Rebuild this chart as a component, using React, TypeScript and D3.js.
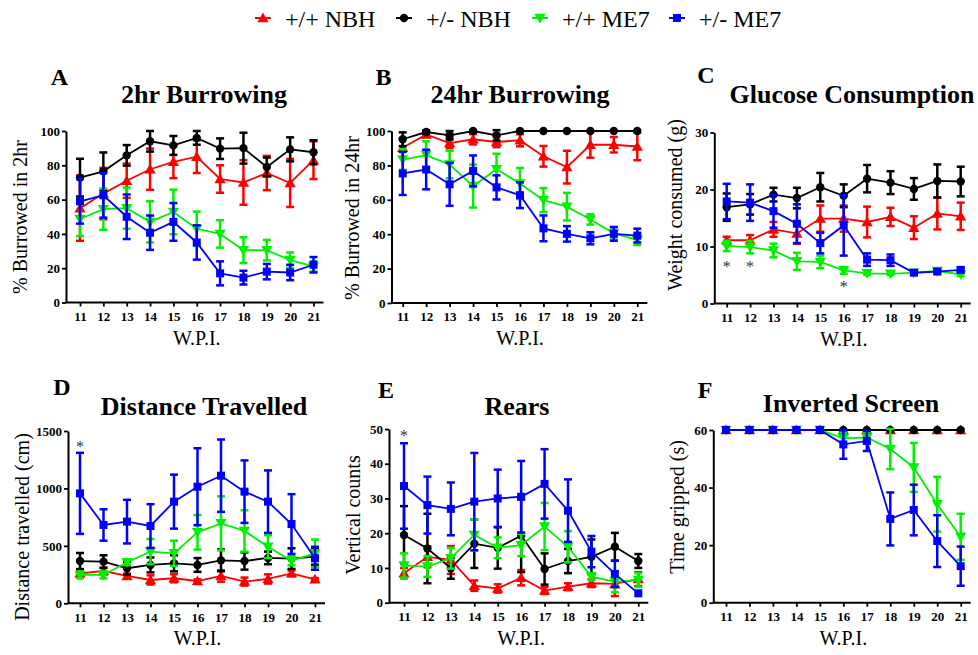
import React, { useRef, useEffect } from 'react';
import * as d3 from 'd3';

const weeks = [11, 12, 13, 14, 15, 16, 17, 18, 19, 20, 21];

// A - 2hr burrowing (%)
const A_WT_NBH = [55, 63.5, 71, 77.7, 82, 85, 72, 70, 75.5, 69.7, 83];
const A_WT_NBH_SEM = [19, 15, 10, 12, 9.5, 9.5, 8, 13, 10, 14, 11];
const A_HET_NBH = [72.8, 76.5, 85.8, 94, 91.6, 96, 89.7, 90, 79, 89.3, 87.6];
const A_HET_NBH_SEM = [11, 11, 6, 6, 5.5, 4, 6, 9, 5.5, 7, 7];
const A_WT_ME7 = [48.7, 54.4, 55, 47, 52.8, 43, 40, 30.5, 30.5, 24.7, 21];
const A_WT_ME7_SEM = [10, 12, 12, 12, 13, 10, 8, 7.5, 6, 4.5, 3];
const A_HET_ME7 = [59, 62.5, 50, 40.7, 47, 35, 17, 14.5, 18, 17.5, 22];
const A_HET_ME7_SEM = [13, 13, 13, 10, 11, 10, 7, 4, 4.5, 4.5, 4.5];

// B - 24hr burrowing (%)
const B_WT_NBH = [90.3, 98, 93, 95.2, 93.6, 94.6, 85.3, 79, 92, 92, 91];
const B_WT_NBH_SEM = [5.5, 1.5, 3, 3, 3, 3.5, 6, 9.5, 7.5, 4.5, 8];
const B_HET_NBH = [95.2, 99.4, 97.5, 100, 97.5, 100, 100, 100, 100, 100, 100];
const B_HET_NBH_SEM = [4, 1, 2.5, 0.5, 3, 0, 0, 0, 0, 0, 0];
const B_WT_ME7 = [83.4, 86, 80.5, 68, 77.8, 69.5, 59.8, 56, 48.6, 40.5, 36.7];
const B_WT_ME7_SEM = [6, 8, 8, 12.5, 9, 9, 7, 8, 3, 3.5, 3];
const B_HET_ME7 = [75.3, 77.6, 69, 76.8, 67.2, 62.7, 43.4, 40.2, 37.6, 40.2, 39.2];
const B_HET_ME7_SEM = [12.5, 11.5, 12.5, 9, 7, 7.5, 7.5, 4.5, 3.5, 4, 4];

// C - glucose consumption (g)
const C_WT_NBH = [11.1, 11.1, 13, 12.3, 14.9, 14.9, 14.3, 15.2, 13.3, 15.8, 15.3];
const C_WT_NBH_SEM = [0.6, 0.9, 1.3, 1.8, 2.3, 2.3, 2.7, 1.6, 2, 2.8, 2.4];
const C_HET_NBH = [16.9, 17.4, 19.1, 18.5, 20.4, 18.9, 21.9, 21.2, 20.1, 21.5, 21.4];
const C_HET_NBH_SEM = [2.4, 1.8, 1.2, 1.8, 2.5, 2, 2.4, 2, 1.9, 2.9, 2.6];
const C_WT_ME7 = [10.1, 9.9, 9.3, 7.4, 7.3, 5.8, 5.3, 5.2, 5.4, 5.7, 5.1];
const C_WT_ME7_SEM = [0.9, 1.1, 1.2, 1.5, 1.1, 0.6, 0.3, 0.2, 0.2, 0.2, 0.3];
const C_HET_ME7 = [17.9, 17.7, 16.2, 14, 10.6, 13.7, 7.7, 7.6, 5.4, 5.6, 5.9];
const C_HET_ME7_SEM = [3.1, 3.2, 2.9, 3.4, 1.8, 5.3, 1.1, 1, 0.3, 0.3, 0.4];

// D - distance travelled (cm)
const D_WT_NBH = [261, 281, 238, 203, 218, 194, 238, 189, 212, 261, 209];
const D_WT_NBH_SEM = [30, 30, 20, 40, 35, 15, 50, 35, 40, 25, 10];
const D_HET_NBH = [368, 363, 305, 334, 348, 334, 374, 368, 395, 389, 406];
const D_HET_NBH_SEM = [70, 55, 55, 65, 70, 60, 95, 75, 55, 90, 70];
const D_WT_ME7 = [247, 247, 357, 450, 435, 618, 696, 630, 493, 371, 435];
const D_WT_ME7_SEM = [30, 30, 25, 110, 110, 150, 235, 180, 100, 40, 120];
const D_HET_ME7 = [957, 682, 711, 673, 885, 1015, 1111, 972, 885, 690, 392];
const D_HET_ME7_SEM = [353, 137, 190, 190, 235, 335, 315, 272, 272, 260, 100];

// E - rears (vertical counts)
const E_WT_NBH = [8.5, 13.2, 12.3, 4.9, 4.1, 7.2, 3.5, 4.6, 5.6, 5.4, 6.8];
const E_WT_NBH_SEM = [1.5, 3, 4, 1.5, 1.2, 2.2, 1, 1, 1.1, 3.5, 2];
const E_HET_NBH = [19.5, 15.6, 9.9, 17, 15.8, 19.3, 9.7, 12, 13.2, 16.1, 12];
const E_HET_NBH_SEM = [8.3, 10, 3, 7, 6, 10.5, 4.5, 3.5, 5, 4, 2];
const E_WT_ME7 = [10.7, 10.4, 12.8, 19.5, 15.8, 16.6, 21.9, 16.1, 7.5, 6, 6.5];
const E_WT_ME7_SEM = [3.5, 3, 3, 4.5, 3, 3.2, 6.8, 4.5, 1, 3, 2];
const E_HET_ME7 = [33.6, 28.1, 27, 29.1, 30, 30.5, 34.2, 26.5, 14.7, 8.3, 2.7];
const E_HET_ME7_SEM = [12.3, 8.2, 7.6, 14, 8.3, 10.3, 10, 9, 4.5, 3.8, 0];

// F - inverted screen (s)
const F_WT_NBH = [60, 60, 60, 60, 60, 60, 60, 60, 60, 60, 60];
const F_WT_NBH_SEM = [0, 0, 0, 0, 0, 0, 0, 0, 0, 0, 0];
const F_HET_NBH = [60, 60, 60, 60, 60, 60, 60, 60, 60, 60, 60];
const F_HET_NBH_SEM = [0, 0, 0, 0, 0, 0, 0, 0, 0, 0, 0];
const F_WT_ME7 = [60, 60, 60, 60, 60, 57.1, 57.4, 53.4, 47, 34.2, 22.9];
const F_WT_ME7_SEM = [0, 0, 0, 0, 0, 2, 2, 7, 8.5, 9.5, 8];
const F_HET_ME7 = [60, 60, 60, 60, 60, 55, 56.2, 29.1, 32.2, 21.4, 12.7];
const F_HET_ME7_SEM = [0, 0, 0, 0, 0, 5, 3.5, 9.2, 8.8, 9, 6.8];

const groupLabels = ['+/+ NBH', '+/- NBH', '+/+ ME7', '+/- ME7'];
const groupColors = ['#ff0000', '#000000', '#00f000', '#0000ff'];

const SERIF = "'Liberation Serif', 'Times New Roman', serif";

const panels = [
  {
    letter: 'A', title: '2hr Burrowing', ylabel: '% Burrowed in 2hr', yMax: 100, yTicks: [0, 20, 40, 60, 80, 100],
    means: [A_WT_NBH, A_HET_NBH, A_WT_ME7, A_HET_ME7], sems: [A_WT_NBH_SEM, A_HET_NBH_SEM, A_WT_ME7_SEM, A_HET_ME7_SEM],
    stars: [] as number[][],
    box: { ax: 66, x0: 80, x1: 313.5, top: 131, bottom: 302.5, letterX: 59.5, letterY: 85, titleX: 204, titleY: 103, ylX: 20, ylY: 217 },
  },
  {
    letter: 'B', title: '24hr Burrowing', ylabel: '% Burrowed in 24hr', yMax: 100, yTicks: [0, 20, 40, 60, 80, 100],
    means: [B_WT_NBH, B_HET_NBH, B_WT_ME7, B_HET_ME7], sems: [B_WT_NBH_SEM, B_HET_NBH_SEM, B_WT_ME7_SEM, B_HET_ME7_SEM],
    stars: [] as number[][],
    box: { ax: 391.5, x0: 402.7, x1: 637.3, top: 131, bottom: 303, letterX: 383.5, letterY: 85, titleX: 520, titleY: 103, ylX: 352, ylY: 218 },
  },
  {
    letter: 'C', title: 'Glucose Consumption', ylabel: 'Weight consumed (g)', yMax: 30, yTicks: [0, 10, 20, 30],
    means: [C_WT_NBH, C_HET_NBH, C_WT_ME7, C_HET_ME7], sems: [C_WT_NBH_SEM, C_HET_NBH_SEM, C_WT_ME7_SEM, C_HET_ME7_SEM],
    stars: [[11, 7], [12, 7], [16, 3.5]],
    box: { ax: 714.3, x0: 726.7, x1: 960.7, top: 132.5, bottom: 303.5, letterX: 706, letterY: 83, titleX: 852, titleY: 103, ylX: 675, ylY: 205 },
  },
  {
    letter: 'D', title: 'Distance Travelled', ylabel: 'Distance travelled (cm)', yMax: 1500, yTicks: [0, 500, 1000, 1500],
    means: [D_WT_NBH, D_HET_NBH, D_WT_ME7, D_HET_ME7], sems: [D_WT_NBH_SEM, D_HET_NBH_SEM, D_WT_ME7_SEM, D_HET_ME7_SEM],
    stars: [[11, 1390]],
    box: { ax: 68, x0: 80, x1: 315, top: 431, bottom: 603.3, letterX: 62, letterY: 395, titleX: 204, titleY: 415, ylX: 22, ylY: 527 },
  },
  {
    letter: 'E', title: 'Rears', ylabel: 'Vertical counts', yMax: 50, yTicks: [0, 10, 20, 30, 40, 50],
    means: [E_WT_NBH, E_HET_NBH, E_WT_ME7, E_HET_ME7], sems: [E_WT_NBH_SEM, E_HET_NBH_SEM, E_WT_ME7_SEM, E_HET_ME7_SEM],
    stars: [[11, 49]],
    box: { ax: 389, x0: 404, x1: 638.3, top: 429, bottom: 602.7, letterX: 386, letterY: 398, titleX: 517, titleY: 415, ylX: 353, ylY: 515 },
  },
  {
    letter: 'F', title: 'Inverted Screen', ylabel: 'Time gripped (s)', yMax: 60, yTicks: [0, 20, 40, 60],
    means: [F_WT_NBH, F_HET_NBH, F_WT_ME7, F_HET_ME7], sems: [F_WT_NBH_SEM, F_HET_NBH_SEM, F_WT_ME7_SEM, F_HET_ME7_SEM],
    stars: [] as number[][],
    box: { ax: 713.3, x0: 726, x1: 960.7, top: 430, bottom: 602.7, letterX: 705, letterY: 398, titleX: 851, titleY: 412, ylX: 677, ylY: 507 },
  },
];

const legendX = [263, 404, 540, 677];

function drawMarker(g: any, k: number, cx: number, cy: number) {
  const color = groupColors[k];
  if (k === 0) {
    g.append('path').attr('d', d3.symbol().type(d3.symbolTriangle).size(55)())
      .attr('transform', `translate(${cx},${cy + 1})`).attr('fill', color);
  } else if (k === 1) {
    g.append('path').attr('d', d3.symbol().type(d3.symbolCircle).size(55)())
      .attr('transform', `translate(${cx},${cy})`).attr('fill', color);
  } else if (k === 2) {
    g.append('path').attr('d', d3.symbol().type(d3.symbolTriangle).size(55)())
      .attr('transform', `translate(${cx},${cy - 1}) rotate(180)`).attr('fill', color);
  } else {
    g.append('path').attr('d', d3.symbol().type(d3.symbolSquare).size(64)())
      .attr('transform', `translate(${cx},${cy})`).attr('fill', color);
  }
}

const App = () => {
  const svgRef = useRef<SVGSVGElement>(null);

  useEffect(() => {
    const svg = d3.select(svgRef.current);
    svg.selectAll('*').remove();

    // legend
    const leg = svg.append('g');
    groupLabels.forEach((lab, k) => {
      const cx = legendX[k];
      leg.append('line').attr('x1', cx - 8).attr('x2', cx + 8).attr('y1', 18).attr('y2', 18)
        .attr('stroke', groupColors[k]).attr('stroke-width', 2);
      drawMarker(leg, k, cx, 18);
      leg.append('text').attr('x', cx + 22).attr('y', 27).text(lab)
        .attr('font-family', SERIF).attr('font-size', 24).attr('fill', '#000');
    });

    panels.forEach((p) => {
      const b = p.box;
      const x = d3.scaleLinear().domain([11, 21]).range([b.x0, b.x1]);
      const y = d3.scaleLinear().domain([0, p.yMax]).range([b.bottom, b.top]);
      const g = svg.append('g');

      g.append('text').attr('x', b.letterX).attr('y', b.letterY).attr('text-anchor', 'middle')
        .attr('font-family', SERIF).attr('font-weight', 'bold').attr('font-size', 24).text(p.letter);
      g.append('text').attr('x', b.titleX).attr('y', b.titleY).attr('text-anchor', 'middle')
        .attr('font-family', SERIF).attr('font-weight', 'bold').attr('font-size', 26).text(p.title);
      g.append('text').attr('transform', `translate(${b.ylX},${b.ylY}) rotate(-90)`)
        .attr('text-anchor', 'middle').attr('dy', '0.35em')
        .attr('font-family', SERIF).attr('font-size', 20).text(p.ylabel);
      g.append('text').attr('x', (b.x0 + b.x1) / 2).attr('y', b.bottom + 42).attr('text-anchor', 'middle')
        .attr('font-family', SERIF).attr('font-size', 20).text('W.P.I.');

      // axes
      const yAx = g.append('g').attr('transform', `translate(${b.ax},0)`)
        .call(d3.axisLeft(y).tickValues(p.yTicks).tickSize(4).tickSizeOuter(0).tickPadding(2).tickFormat(d3.format('d')));
      const xAx = g.append('g').attr('transform', `translate(0,${b.bottom})`)
        .call(d3.axisBottom(x).tickValues(weeks).tickSize(4).tickSizeOuter(0).tickPadding(5).tickFormat(d3.format('d')));
      xAx.select('.domain').remove();
      g.append('line').attr('x1', b.ax).attr('x2', b.x1 + 10).attr('y1', b.bottom).attr('y2', b.bottom)
        .attr('stroke', '#000').attr('stroke-width', 2);
      [yAx, xAx].forEach((a) => {
        a.selectAll('text').attr('font-family', SERIF).attr('font-weight', 'bold')
          .attr('font-size', 13).attr('fill', '#000');
        a.selectAll('line').attr('stroke', '#000').attr('stroke-width', 1.8);
        a.selectAll('path').attr('stroke', '#000').attr('stroke-width', 2);
      });

      // series
      p.means.forEach((vals, k) => {
        const sem = p.sems[k];
        const color = groupColors[k];
        const sg = g.append('g');
        const line = d3.line<number>().x((_, i) => x(weeks[i])).y((v) => y(v));
        sg.append('path').attr('d', line(vals)).attr('fill', 'none')
          .attr('stroke', color).attr('stroke-width', 1.8);
        vals.forEach((v, i) => {
          if (sem[i] <= 0) return;
          const cx = x(weeks[i]);
          const yHi = y(Math.min(v + sem[i], p.yMax * 1.02));
          const yLo = y(Math.max(v - sem[i], 0));
          sg.append('line').attr('x1', cx).attr('x2', cx).attr('y1', yHi).attr('y2', yLo)
            .attr('stroke', color).attr('stroke-width', 2.5);
          [yHi, yLo].forEach((yy) => {
            sg.append('line').attr('x1', cx - 4).attr('x2', cx + 4).attr('y1', yy).attr('y2', yy)
              .attr('stroke', color).attr('stroke-width', 2.5);
          });
        });
        vals.forEach((v, i) => drawMarker(sg, k, x(weeks[i]), y(v)));
      });

      p.stars.forEach(([w, v]) => {
        g.append('text').attr('x', x(w)).attr('y', y(v)).attr('dy', '0.53em').attr('text-anchor', 'middle')
          .attr('font-family', SERIF).attr('font-size', 16).attr('fill', '#333').text('*');
      });
    });
  }, []);

  return (
    <svg ref={svgRef} width={978} height={655}
      style={{ position: 'absolute', left: 0, top: 0, background: '#fff' }} />
  );
};

export default App;
